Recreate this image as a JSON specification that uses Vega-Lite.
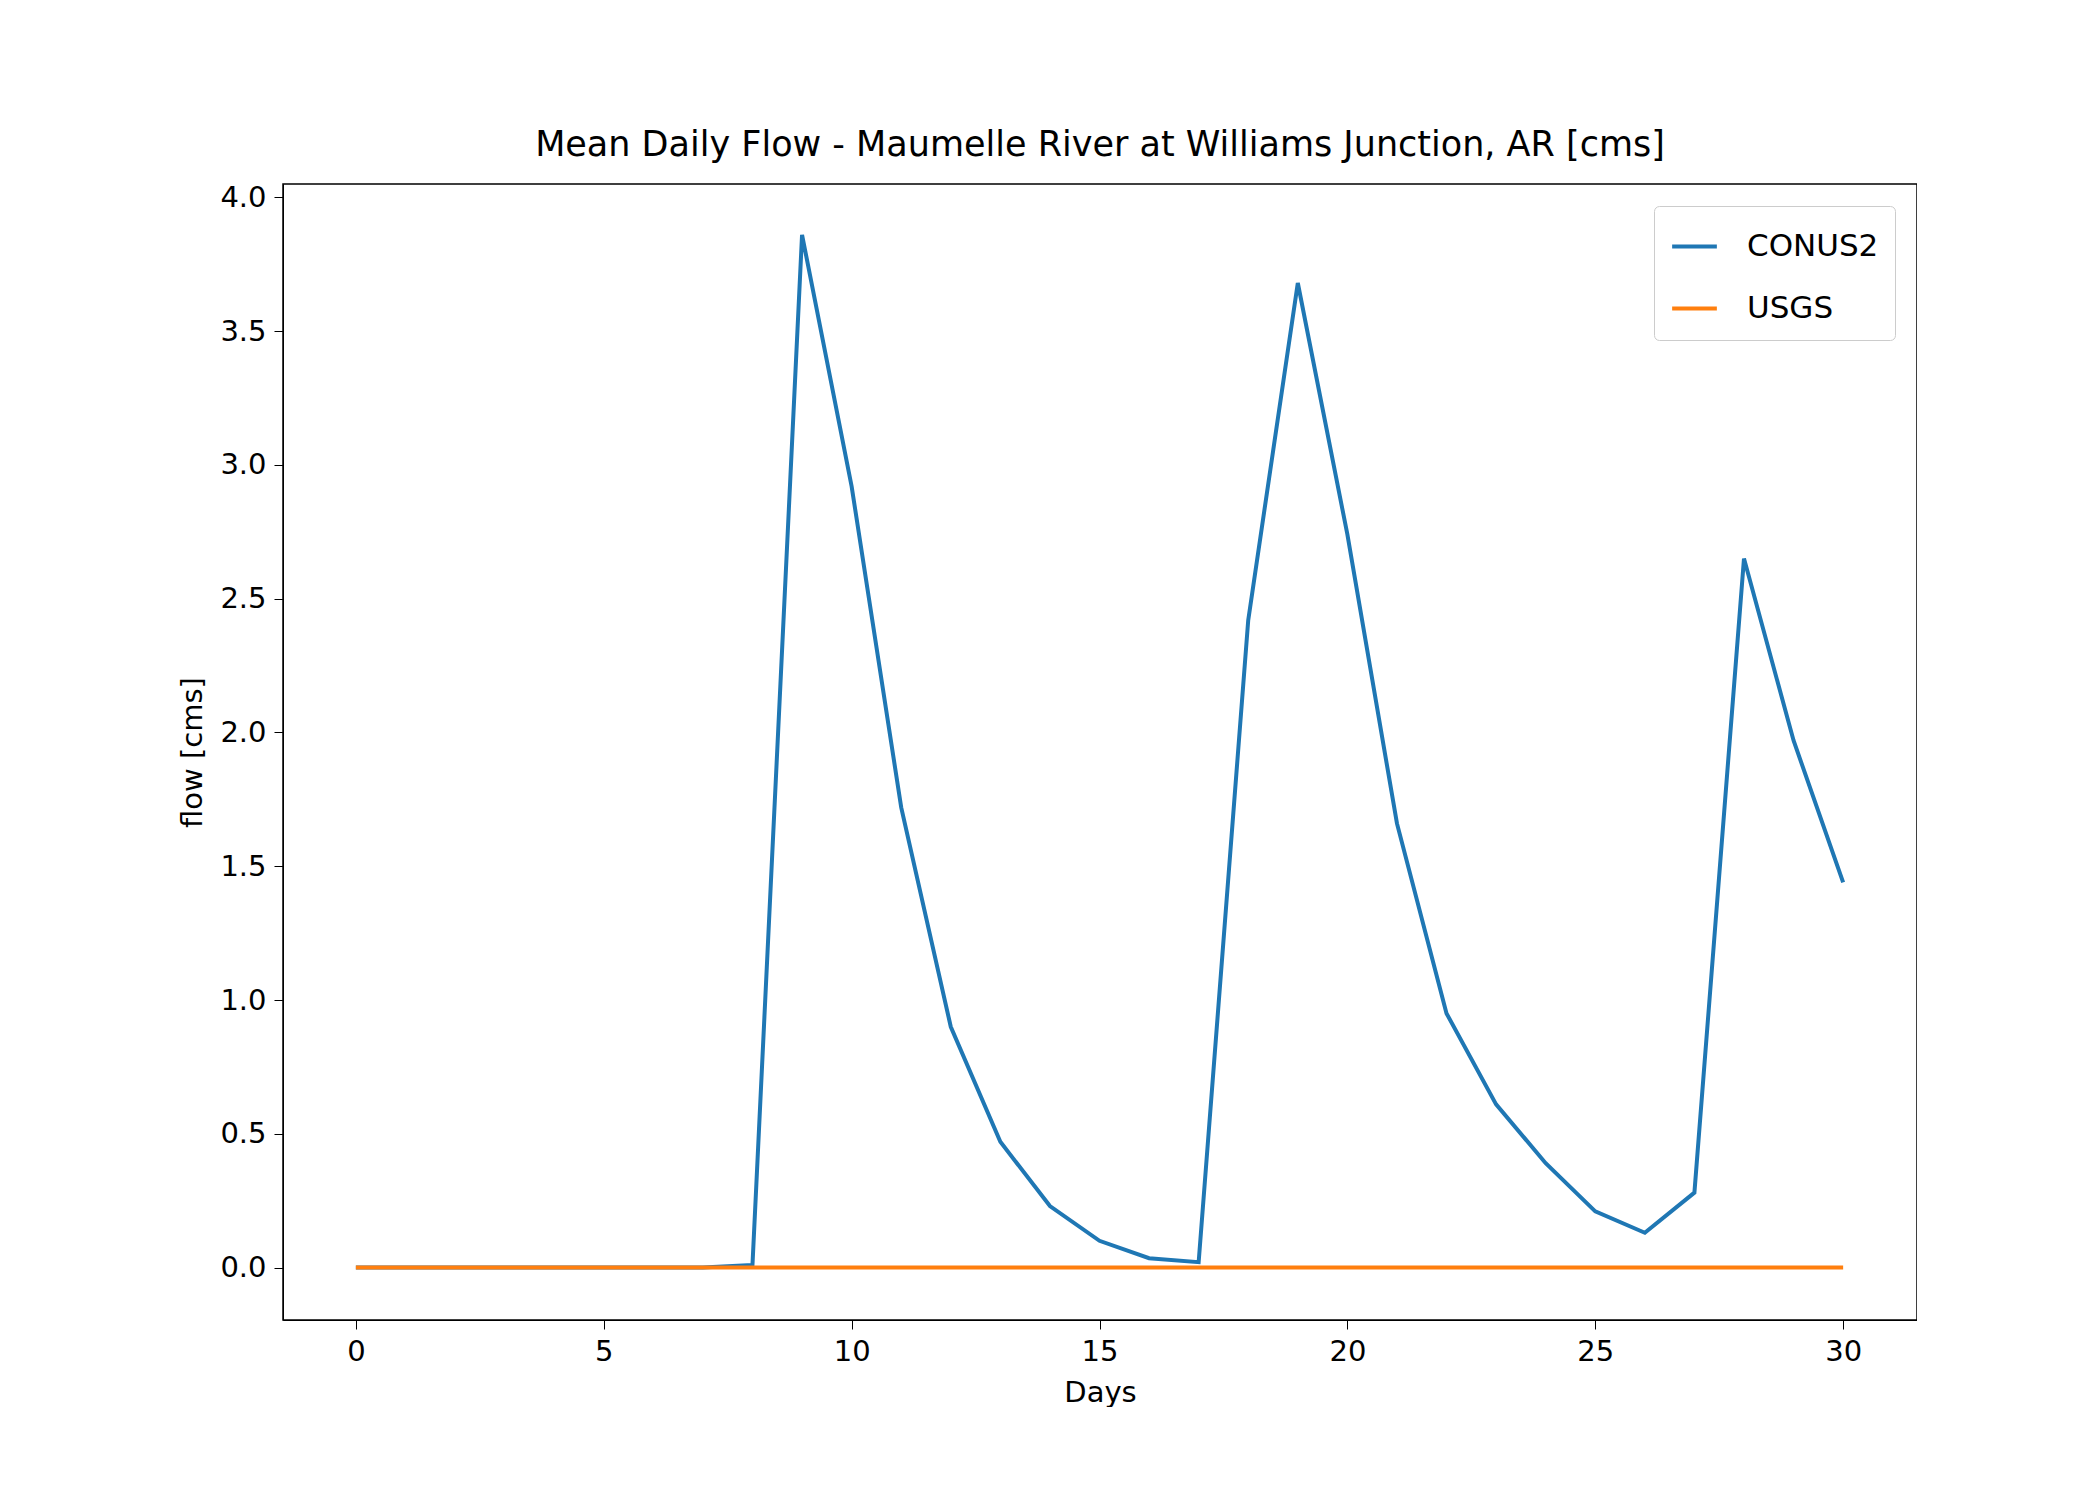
{
  "$schema": "https://vega.github.io/schema/vega-lite/v6.json",
  "width": 1634,
  "height": 1136,
  "padding": {"left": 178, "top": 128, "right": 0, "bottom": 0},
  "background": "white",
  "config": {
    "font": "DejaVu Sans",
    "view": {"stroke": "black", "strokeWidth": 1.5},
    "axis": {
      "grid": false, "domainColor": "black", "tickColor": "black", "tickSize": 9,
      "labelFontSize": 29, "titleFontSize": 29, "labelColor": "black", "titleColor": "black",
      "titleFontWeight": "normal", "labelPadding": 8, "titlePadding": 12
    },
    "legend": {
      "orient": "top-right", "labelFontSize": 31, "strokeColor": "#cccccc", "fillColor": "white",
      "padding": 16, "cornerRadius": 5, "symbolType": "stroke", "symbolSize": 2000, "symbolStrokeWidth": 4,
      "rowPadding": 22, "offset": 22, "labelOffset": 28
    }
  },
  "title": {"text": "Mean Daily Flow - Maumelle River at Williams Junction, AR [cms]", "fontSize": 35, "fontWeight": "normal", "color": "black", "offset": 20},
  "data": {"values": [
    {"day": 0, "flow": 0, "series": "CONUS2"},
    {"day": 1, "flow": 0, "series": "CONUS2"},
    {"day": 2, "flow": 0, "series": "CONUS2"},
    {"day": 3, "flow": 0, "series": "CONUS2"},
    {"day": 4, "flow": 0, "series": "CONUS2"},
    {"day": 5, "flow": 0, "series": "CONUS2"},
    {"day": 6, "flow": 0, "series": "CONUS2"},
    {"day": 7, "flow": 0, "series": "CONUS2"},
    {"day": 8, "flow": 0.01, "series": "CONUS2"},
    {"day": 9, "flow": 3.86, "series": "CONUS2"},
    {"day": 10, "flow": 2.92, "series": "CONUS2"},
    {"day": 11, "flow": 1.72, "series": "CONUS2"},
    {"day": 12, "flow": 0.9, "series": "CONUS2"},
    {"day": 13, "flow": 0.47, "series": "CONUS2"},
    {"day": 14, "flow": 0.23, "series": "CONUS2"},
    {"day": 15, "flow": 0.1, "series": "CONUS2"},
    {"day": 16, "flow": 0.035, "series": "CONUS2"},
    {"day": 17, "flow": 0.02, "series": "CONUS2"},
    {"day": 18, "flow": 2.42, "series": "CONUS2"},
    {"day": 19, "flow": 3.68, "series": "CONUS2"},
    {"day": 20, "flow": 2.74, "series": "CONUS2"},
    {"day": 21, "flow": 1.66, "series": "CONUS2"},
    {"day": 22, "flow": 0.95, "series": "CONUS2"},
    {"day": 23, "flow": 0.61, "series": "CONUS2"},
    {"day": 24, "flow": 0.39, "series": "CONUS2"},
    {"day": 25, "flow": 0.21, "series": "CONUS2"},
    {"day": 26, "flow": 0.13, "series": "CONUS2"},
    {"day": 27, "flow": 0.28, "series": "CONUS2"},
    {"day": 28, "flow": 2.65, "series": "CONUS2"},
    {"day": 29, "flow": 1.97, "series": "CONUS2"},
    {"day": 30, "flow": 1.44, "series": "CONUS2"},
    {"day": 0, "flow": 0, "series": "USGS"},
    {"day": 5, "flow": 0, "series": "USGS"},
    {"day": 10, "flow": 0, "series": "USGS"},
    {"day": 15, "flow": 0, "series": "USGS"},
    {"day": 20, "flow": 0, "series": "USGS"},
    {"day": 25, "flow": 0, "series": "USGS"},
    {"day": 30, "flow": 0, "series": "USGS"}
  ]},
  "mark": {"type": "line", "strokeWidth": 4},
  "encoding": {
    "x": {"field": "day", "type": "quantitative", "title": "Days",
      "scale": {"domain": [-1.47, 31.49], "nice": false, "zero": false},
      "axis": {"values": [0, 5, 10, 15, 20, 25, 30]}},
    "y": {"field": "flow", "type": "quantitative", "title": "flow [cms]",
      "scale": {"domain": [-0.196, 4.05], "nice": false, "zero": false},
      "axis": {"values": [0, 0.5, 1, 1.5, 2, 2.5, 3, 3.5, 4], "format": ".1f"}},
    "color": {"field": "series", "type": "nominal", "title": null,
      "scale": {"domain": ["CONUS2", "USGS"], "range": ["#1f77b4", "#ff7f0e"]}}
  }
}
